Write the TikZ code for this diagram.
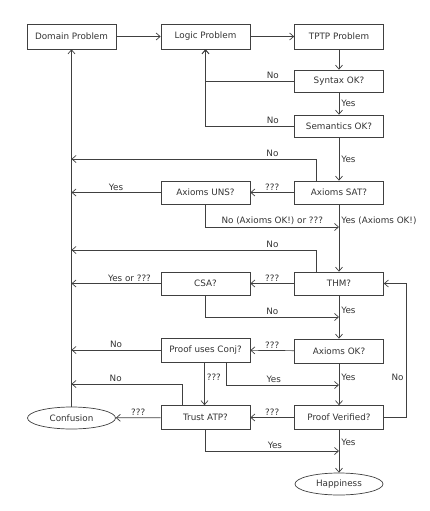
\documentclass[tikz,border=0pt]{standalone}
\usepackage{fontspec}
\setmainfont{DejaVu Sans}
\usetikzlibrary{arrows.meta, shapes.geometric}

\tikzset{
  stepbox/.style={draw=black!75, line width=0.7pt, minimum width=89pt, minimum height=24pt,
                  inner sep=0pt, font=\fontsize{8.8}{10}\selectfont, text=black!80},
  endcap/.style={stepbox, ellipse, minimum width=88pt, minimum height=22pt},
  lbl/.style={font=\fontsize{8.8}{10}\selectfont, text=black!80, inner sep=2pt},
  wire/.style={->, draw=black!75, line width=0.7pt},
}

\begin{document}
\begin{tikzpicture}[x=1pt, y=-1pt, >={Straight Barb[length=4pt, width=7pt]}]
    \useasboundingbox (0,0) rectangle (430,511);

    % boxes
    \node[stepbox, minimum height=25pt] (dom)   at (71.5, 36.5) {Domain Problem};
    \node[stepbox, minimum height=25pt] (logic) at (205.5, 36.5) {Logic Problem};
    \node[stepbox, minimum height=25pt] (tptp)  at (339, 36.5) {TPTP Problem};
    \node[stepbox, minimum height=22pt] (syntax) at (339, 81) {Syntax OK?};
    \node[stepbox, minimum height=22pt] (sem)    at (339, 126) {Semantics OK?};
    \node[stepbox, minimum height=23pt] (axsat)  at (339, 192.5) {Axioms SAT?};
    \node[stepbox, minimum height=23pt] (axuns)  at (205.5, 192.5) {Axioms UNS?};
    \node[stepbox, minimum height=23pt] (thm)    at (339, 283.5) {THM?};
    \node[stepbox, minimum height=23pt] (csa)    at (205.5, 283.5) {CSA?};
    \node[stepbox] (axok)  at (339, 351) {Axioms OK?};
    \node[stepbox] (conj)  at (205.5, 350) {Proof uses Conj?};
    \node[stepbox] (trust) at (205.5, 417.5) {Trust ATP?};
    \node[stepbox] (verif) at (339, 417.5) {Proof Verified?};
    \node[endcap] (confusion) at (71.5, 418) {Confusion};
    \node[endcap] (happy)     at (339, 484) {Happiness};

    % free ends of the elbow lines
    \coordinate (nosat)   at (71.5, 159);
    \coordinate (nothm)   at (71.5, 250);
    \coordinate (trustno) at (71.5, 384);
    \coordinate (unsok)   at (339, 227);
    \coordinate (csano)   at (339, 317);
    \coordinate (conjyes) at (339, 385);
    \coordinate (trustyes) at (339, 451);

    \draw[wire] (dom) -- (logic);
    \draw[wire] (logic) -- (tptp);
    \draw[wire] (tptp) -- (syntax);
    \draw[wire] (syntax) -- node[lbl, right] {Yes} (sem);
    \draw[wire] (syntax.west) -| node[lbl, pos=0.12, above] {No} (logic.south);
    \draw[wire] (sem.west) -| node[lbl, pos=0.12, above] {No} (logic.south);
    \draw[wire] (sem) -- node[lbl, right] {Yes} (axsat);

    \draw[wire] ([xshift=-22.5pt]axsat.north) |- node[lbl, pos=0.59, above] {No} (nosat);
    \draw[wire] (axsat) -- node[lbl, above] {???} (axuns);
    \draw[wire] (axuns.west) -- node[lbl, above] {Yes} (axuns.west -| dom);
    \draw[wire] (axuns.south) |- node[lbl, pos=0.75, above] {No (Axioms OK!) or ???} (unsok);
    \draw[wire] (axsat) -- node[lbl, pos=0.24, right] {Yes (Axioms OK!)} (thm);

    \draw[wire] ([xshift=-22.5pt]thm.north) |- node[lbl, pos=0.59, above] {No} (nothm);
    \draw[wire] (thm) -- node[lbl, above] {???} (csa);
    \draw[wire] (csa.west) -- node[lbl, pos=0.35, above] {Yes or ???} (csa.west -| dom);
    \draw[wire] (csa.south) |- node[lbl, pos=0.75, above] {No} (csano);
    \draw[wire] (thm) -- node[lbl, pos=0.34, right] {Yes} (axok);

    \draw[wire] (axok) -- node[lbl, above] {???} (conj);
    \draw[wire] (conj.west) -- node[lbl, above] {No} (conj.west -| dom);
    \draw[wire] ([xshift=-1pt]conj.south) -- node[lbl, pos=0.35, right] {???} ([xshift=-1pt]trust.north);
    \draw[wire] ([xshift=21pt]conj.south) |- node[lbl, pos=0.71, above] {Yes} (conjyes);
    \draw[wire] (axok) -- node[lbl, pos=0.33, right] {Yes} (verif);

    \draw[wire] ([xshift=-23.5pt]trust.north) |- node[lbl, pos=0.8, above] {No} (trustno);
    \draw[wire] (verif) -- node[lbl, above] {???} (trust);
    \draw[wire] (trust) -- node[lbl, above] {???} (confusion);
    \draw[wire] (verif.east) -- ++(22,0) |- node[lbl, pos=0.15, left] {No} (thm.east);
    \draw[wire] (trust.south) |- node[lbl, pos=0.76, above] {Yes} (trustyes);
    \draw[wire] (verif) -- node[lbl, pos=0.3, right] {Yes} (happy);
    \draw[wire] (confusion) -- (dom);
\end{tikzpicture}
\end{document}
